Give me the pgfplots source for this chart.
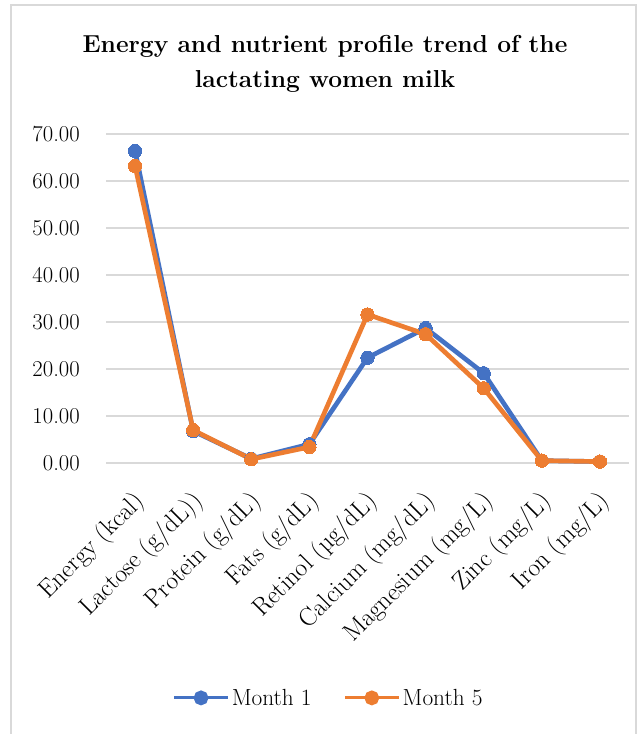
\documentclass[border=0pt]{standalone}
\usepackage{pgfplots}
\pgfplotsset{compat=1.18}
\definecolor{mblue}{HTML}{4472C4}
\definecolor{morange}{HTML}{ED7D31}
\definecolor{gridgray}{HTML}{D9D9D9}
\newcommand\fs{\fontsize{17}{20.4}\selectfont}
\newcommand\fx{\fontsize{19}{22.8}\selectfont}
\newcommand\fl{\fontsize{17.5}{21}\selectfont}
\begin{document}
\begin{tikzpicture}
\useasboundingbox (0,0) rectangle (480.75pt,550.5pt);
\draw[gridgray, line width=1.5pt] (8.25pt,-10pt) -- (8.25pt,546.75pt) -- (477pt,546.75pt) -- (477pt,-10pt);
\begin{axis}[
  at={(79.5pt,203.25pt)}, anchor=south west,
  scale only axis, width=392.25pt, height=246.75pt,
  xmin=-0.5, xmax=8.5, ymin=0, ymax=70,
  xtick={0,1,2,3,4,5,6,7,8},
  xticklabels={Energy (kcal), Lactose (g/dL)), Protein (g/dL), Fats (g/dL), Retinol (µg/dL), Calcium (mg/dL), Magnesium (mg/L), Zinc (mg/L), Iron (mg/L)},
  ytick={0,10,...,70},
  yticklabel={\pgfmathprintnumber[fixed,fixed zerofill,precision=2]{\tick}},
  /pgf/number format/assume math mode=true,
  ymajorgrids, grid style={gridgray, line width=0.9pt},
  axis line style={draw=none}, major tick length=0pt,
  tick label style={inner sep=0pt},
  yticklabel style={font=\fs, anchor=east, xshift=-19.5pt},
  xticklabel style={font=\fx, xshift=4.5pt, yshift=-26pt, rotate=45, anchor=east},
  clip=false,
  legend columns=2,
  legend style={draw=none, fill=none, font=\fl, at={(0.4264,-0.714)}, anchor=center,
    /tikz/every even column/.append style={column sep=22pt}},
  legend cell align=left,
  legend image code/.code={\draw[line width=2.25pt] (0pt,0pt) -- (40pt,0pt); \fill (20pt,0pt) circle (3.75pt);},
]
\addplot[mblue, line width=3.5pt, mark=*, mark size=5pt, mark options={line width=0pt}] coordinates {
 (0,66.4) (1,6.8) (2,0.9) (3,4.0) (4,22.4) (5,28.7) (6,19.1) (7,0.5) (8,0.3)};
\addlegendentry{Month 1}
\addplot[morange, line width=3.5pt, mark=*, mark size=5pt, mark options={line width=0pt}] coordinates {
 (0,63.2) (1,7.0) (2,0.8) (3,3.4) (4,31.6) (5,27.4) (6,15.9) (7,0.5) (8,0.3)};
\addlegendentry{Month 5}
\end{axis}
\node[align=center, font=\fontsize{18.4}{26.25}\selectfont\bfseries] at (243.75pt,502.5pt) {Energy and nutrient profile trend of the\\lactating women milk};
\end{tikzpicture}
\end{document}
